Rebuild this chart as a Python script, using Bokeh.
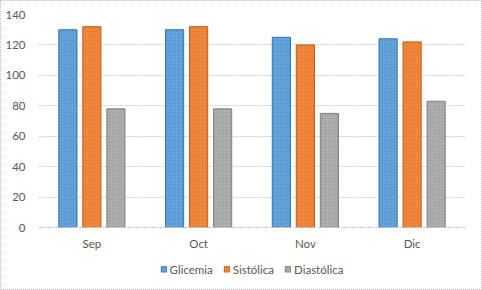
from bokeh.plotting import figure
from bokeh.models import Legend, LegendItem, FactorRange, ColumnDataSource, InlineStyleSheet, Spacer
from bokeh.layouts import column
from bokeh.transform import dodge
from bokeh.embed import file_html
from bokeh.resources import INLINE

months = ["Sep", "Oct", "Nov", "Dic"]
glicemia = [130, 130, 125, 124]
sistolica = [132, 132, 120, 122]
diastolica = [78, 78, 75, 83]
series_names = ["Glicemia", "Sistólica", "Diastólica"]
y_ticks = [0, 20, 40, 60, 80, 100, 120, 140]

src = ColumnDataSource(dict(month=months, g=glicemia, s=sistolica, d=diastolica))

p = figure(x_range=FactorRange(*months), y_range=(0, 140), width=480, height=255,
           output_backend="svg", toolbar_location=None,
           min_border_left=37, min_border_right=16, min_border_top=13, min_border_bottom=29)
p.outline_line_color = None
p.background_fill_color = "white"
p.border_fill_color = "white"

fonts = "Lato"
fsize = "11.5px"
cols = [("g", "#5B9BD5", "#2E75B6", "#8FC1EC"),
        ("s", "#ED7D31", "#C55A11", "#F7B17E"),
        ("d", "#A5A5A5", "#7F7F7F", "#D0D0D0")]
offsets = [-0.225, 0.0, 0.225]
styles = []
for (field, fc, lc, hc), off in zip(cols, offsets):
    st = dict(fill_color=fc, line_color=lc, line_width=1,
              hatch_pattern="dot", hatch_color=hc, hatch_scale=3, hatch_alpha=0.6)
    styles.append(st)
    p.vbar(x=dodge("month", off, range=p.x_range), top=field, width=0.17, source=src, **st)

p.yaxis.ticker = y_ticks
p.yaxis.axis_line_color = None
p.yaxis.major_tick_line_color = None
p.yaxis.minor_tick_line_color = None
p.yaxis.major_label_text_font = fonts
p.yaxis.major_label_text_font_size = fsize
p.yaxis.major_label_text_color = "#595959"
p.yaxis.major_label_standoff = 7

p.xaxis.axis_line_color = "#C8C8C8"
p.xaxis.axis_line_dash = "6 2"
p.xaxis.major_tick_line_color = None
p.xaxis.minor_tick_line_color = None
p.xaxis.major_label_text_font = fonts
p.xaxis.major_label_text_font_size = fsize
p.xaxis.major_label_text_color = "#595959"
p.xaxis.major_label_standoff = 3

p.xgrid.grid_line_color = None
p.ygrid.grid_line_color = "#D0D0D0"
p.ygrid.grid_line_dash = "2 1"

# legend strip: legend-only renderers placed outside the strip's visible range
lf = figure(width=480, height=26, x_range=(0, 1), y_range=(0, 1),
            x_axis_type=None, y_axis_type=None, output_backend="svg", toolbar_location=None,
            min_border=0)
lf.outline_line_color = None
lf.grid.visible = False
leg_src = ColumnDataSource(dict(x=[-1], top=[-5], bottom=[-6]))
leg_renderers = [lf.vbar(x="x", top="top", bottom="bottom", width=0.1, source=leg_src, **st)
                 for st in styles]
legend = Legend(items=[LegendItem(label=n, renderers=[r]) for n, r in zip(series_names, leg_renderers)],
                orientation="horizontal", location="center",
                glyph_width=7, glyph_height=7, label_standoff=3, spacing=10,
                label_text_font=fonts, label_text_font_size=fsize, label_text_color="#595959",
                border_line_color=None, background_fill_alpha=0, margin=0, padding=0)
lf.add_layout(legend, "center")

layout = column(p, lf, Spacer(width=480, height=7), spacing=0)
layout.stylesheets = [InlineStyleSheet(css=":host { border: 1px dotted #BFBFBF; }")]

open("out.html", "w").write(file_html(layout, INLINE))
